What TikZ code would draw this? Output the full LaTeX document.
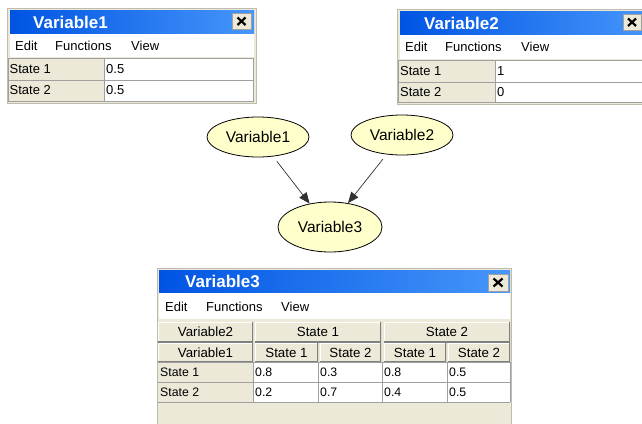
\documentclass[tikz,border=0pt]{standalone}
\usepackage{fontspec}
\setmainfont{Liberation Sans}
\usetikzlibrary{shapes.geometric,arrows.meta}
\definecolor{winbg}{RGB}{236,233,216}
\definecolor{framec}{RGB}{190,187,175}
\definecolor{gridc}{RGB}{160,160,160}
\definecolor{titleL}{RGB}{0,84,227}
\definecolor{titleR}{RGB}{70,150,250}
\definecolor{nodefill}{RGB}{255,255,204}
\definecolor{shadowc}{RGB}{128,128,128}
\definecolor{closebg}{RGB}{236,233,216}
\tikzset{
  titletext/.style={anchor=west, inner sep=0pt, text=white, font=\fontsize{17}{19}\selectfont\bfseries},
  menutext/.style={anchor=west, inner sep=0pt, font=\fontsize{13}{15}\selectfont},
  celltext/.style={anchor=west, inner sep=0pt, font=\fontsize{13}{15}\selectfont},
  smallcell/.style={anchor=west, inner sep=0pt, font=\fontsize{12.3}{14}\selectfont},
  btn/.style={fill=winbg, inner sep=0pt, font=\fontsize{13.3}{15}\selectfont,
    path picture={
      \draw[white, line width=2pt] (path picture bounding box.south west) |- (path picture bounding box.north east);
      \draw[shadowc, line width=2.4pt] (path picture bounding box.south west) -| (path picture bounding box.north east);
    }},
  ell/.style={ellipse, draw=black, line width=0.8pt, fill=nodefill, inner sep=0pt, font=\fontsize{15.5}{17}\selectfont},
  arr/.style={draw={rgb,255:red,50;green,50;blue,50}, line width=0.7pt, -{Triangle[length=11pt,width=9pt]}},
  closebox/.style={draw=gridc, fill=closebg, line width=0.6pt},
  xmark/.style={line width=2.2pt, black},
}
\begin{document}
\begin{tikzpicture}[x=1pt,y=-1pt]
\useasboundingbox (0,0) rectangle (642,423);
\fill[white] (0,0) rectangle (642,423);

% ---------------- Window 1 ----------------
\draw[framec, fill=winbg] (7.5,8.5) rectangle (256.5,103.5);
\shade[left color=titleL, right color=titleR] (10,10) rectangle (254,34);
\node[titletext] (w1title) at (33,22) {Variable1};
\draw[closebox] (232,13) rectangle (251,29);
\draw[xmark] (237.5,17.5) -- (245.5,25) (245.5,17.5) -- (237.5,25);
\fill[white] (10,34) rectangle (254,57);
\node[menutext] (w1edit) at (15,46) {Edit};
\node[menutext] (w1func) at (55,46) {Functions};
\node[menutext] (w1view) at (131,46) {View};
\fill[winbg] (8,58) rectangle (104,101);
\fill[white] (104,58) rectangle (253,101);
\draw[gridc, line width=1pt] (8,58) rectangle (253,101);
\draw[gridc, line width=1pt] (8,80) -- (253,80) (104,58) -- (104,101);
\node[celltext] (w1r1) at (9.5,69.5) {State 1};
\node[celltext] (w1r2) at (9.5,90.5) {State 2};
\node[celltext] (w1v1) at (106,69.5) {0.5};
\node[celltext] (w1v2) at (106,90.5) {0.5};

% ---------------- Window 2 ----------------
\draw[framec, fill=winbg] (397.5,9.5) rectangle (650,104.5);
\shade[left color=titleL, right color=titleR] (400,11) rectangle (650,35);
\node[titletext] (w2title) at (424,23) {Variable2};
\draw[closebox] (623,14) rectangle (641,30);
\draw[xmark] (628,18.5) -- (636,26) (636,18.5) -- (628,26);
\fill[white] (400,35) rectangle (650,59);
\node[menutext] (w2edit) at (405,47) {Edit};
\node[menutext] (w2func) at (445,47) {Functions};
\node[menutext] (w2view) at (521,47) {View};
\fill[winbg] (398,60) rectangle (495,102);
\fill[white] (495,60) rectangle (650,102);
\draw[gridc, line width=1pt] (398,60) rectangle (650,102);
\draw[gridc, line width=1pt] (398,82) -- (650,82) (495,60) -- (495,102);
\node[celltext] (w2r1) at (400,71.5) {State 1};
\node[celltext] (w2r2) at (400,92.5) {State 2};
\node[celltext] (w2v1) at (497,71.5) {1};
\node[celltext] (w2v2) at (497,92.5) {0};

% ---------------- Graph ----------------
\node[ell, minimum width=102pt, minimum height=40pt] (v1) at (258,137) {Variable1};
\node[ell, minimum width=102pt, minimum height=40pt] (v2) at (402,135) {Variable2};
\node[ell, minimum width=104pt, minimum height=50pt] (v3) at (330,227) {Variable3};
\draw[arr, shorten <=6pt] (v1) -- (v3.131);
\draw[arr, shorten <=6pt] (v2) -- (v3.53);

% ---------------- Window 3 ----------------
\draw[framec, fill=winbg] (157.5,268.5) rectangle (511.5,430);
\shade[left color=titleL, right color=titleR] (159,270) rectangle (510,293);
\node[titletext] (w3title) at (185,281.5) {Variable3};
\draw[closebox] (488,274) rectangle (508,291);
\draw[xmark] (493.5,278.5) -- (502.5,286.5) (502.5,278.5) -- (493.5,286.5);
\fill[white] (159,293) rectangle (510,319);
\node[menutext] (w3edit) at (165,306.5) {Edit};
\node[menutext] (w3func) at (206,306.5) {Functions};
\node[menutext] (w3view) at (281,306.5) {View};
% header buttons
\node[btn, minimum width=95pt, minimum height=20pt] (h1a) at (205.5,332) {Variable2};
\node[btn, minimum width=126pt, minimum height=20pt] (h1b) at (318,332) {State 1};
\node[btn, minimum width=126pt, minimum height=20pt] (h1c) at (447,332) {State 2};
\node[btn, minimum width=95pt, minimum height=19pt] (h2a) at (205.5,352.5) {Variable1};
\node[btn, minimum width=63pt, minimum height=19pt] (h2b) at (286.5,352.5) {State 1};
\node[btn, minimum width=61pt, minimum height=19pt] (h2c) at (350.5,352.5) {State 2};
\node[btn, minimum width=62pt, minimum height=19pt] (h2d) at (415,352.5) {State 1};
\node[btn, minimum width=62pt, minimum height=19pt] (h2e) at (479,352.5) {State 2};
% data
\fill[winbg] (158,362) rectangle (253,402);
\fill[white] (253,362) rectangle (510,402);
\draw[gridc, line width=1pt] (158,362) -- (510,362) (158,382) -- (510,382) (158,402) -- (510,402);
\draw[gridc, line width=1pt] (253,362) -- (253,402) (318,362) -- (318,402) (382,362) -- (382,402) (447,362) -- (447,402) (510,362) -- (510,402);
\node[smallcell] (r1) at (160,372.5) {State 1};
\node[smallcell] (r2) at (160,392.5) {State 2};
\node[smallcell] (c11) at (255,372.5) {0.8};
\node[smallcell] (c12) at (320,372.5) {0.3};
\node[smallcell] (c13) at (384,372.5) {0.8};
\node[smallcell] (c14) at (449,372.5) {0.5};
\node[smallcell] (c21) at (255,392.5) {0.2};
\node[smallcell] (c22) at (320,392.5) {0.7};
\node[smallcell] (c23) at (384,392.5) {0.4};
\node[smallcell] (c24) at (449,392.5) {0.5};
\end{tikzpicture}
\end{document}
